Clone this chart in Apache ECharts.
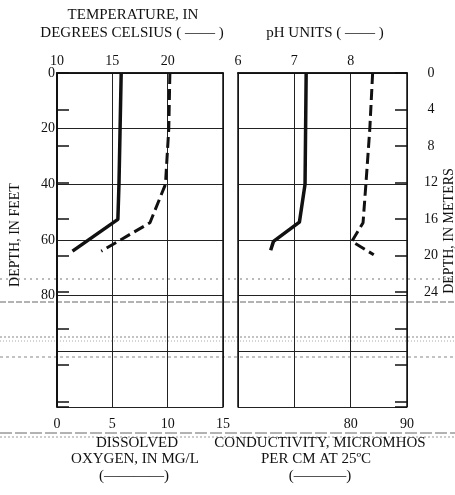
<!DOCTYPE html>
<html>
<head>
<meta charset="utf-8">
<script src="https://cdn.jsdelivr.net/npm/echarts@6/dist/echarts.min.js"></script>
<style>
html,body{margin:0;padding:0;background:#fff;}
#chart{width:455px;height:495px;}
</style>
</head>
<body>
<div id="chart"></div>
<script>
// ---- data (depth in feet) ----
var tempDepth = [0, 20, 40, 52.6, 64];
var temperature = [15.8, 15.7, 15.6, 15.5, 11.4];

var doDepth = [0, 20, 40, 53.8, 64];
var dissolvedOxygen = [10.2, 10.1, 9.8, 8.4, 4.0];

var phDepth = [0, 20, 40, 53.6, 60.5, 63.7];
var ph = [7.21, 7.2, 7.19, 7.09, 6.63, 6.58];

var condDepth = [0, 20, 40, 53.8, 60.5, 65.3];
var conductivity = [83.9, 83.4, 82.7, 82.2, 80.2, 84.1];

var feetTicks = [0, 20, 40, 60, 80];
var meterTicks = [0, 4, 8, 12, 16, 20, 24];
var tempTicks = [10, 15, 20];
var phTicks = [6, 7, 8];
var doTicks = [0, 5, 10, 15];
var condTicks = [80, 90];

function zip(xs, ys) { return xs.map(function (x, i) { return [x, ys[i]]; }); }
function only(list) { return function (v) { return list.indexOf(Math.round(v * 1000) / 1000) >= 0 ? String(v) : ''; }; }

var FONT = 'Liberation Serif';
var INK = '#111';
var FT_PER_M = 3.2808;
var MAXFT = 120;
var MAXM = MAXFT / FT_PER_M;
var TF = '15px "Liberation Serif"';
var RF = '14px "Liberation Serif"';

var chart = echarts.init(document.getElementById('chart'), null, {renderer: 'canvas'});

var gridLine = {show: true, lineStyle: {color: '#222', width: 1}};
var axLine = {show: true, lineStyle: {color: INK, width: 1.5}};
var lbl = {fontFamily: FONT, fontSize: 14, color: INK};

function txt(s, x, y, font) {
  return {type: 'text', style: {text: s, x: x, y: y, align: 'center', verticalAlign: 'middle', font: font || TF, fill: INK}};
}
function rule(y, color, dash) {
  return {type: 'line', shape: {x1: 0, y1: y, x2: 455, y2: y}, style: {stroke: color, lineWidth: 1, lineDash: dash}, z: -1};
}

var option = {
  backgroundColor: '#fff',
  animation: false,
  grid: [
    {left: 57, right: 232, top: 73, bottom: 88, show: false},
    {left: 238, right: 48, top: 73, bottom: 88, show: false}
  ],
  xAxis: [
    {gridIndex: 0, type: 'value', position: 'top', min: 10, max: 25, interval: 5,
     axisLine: axLine, axisTick: {show: false}, splitLine: {show: false},
     axisLabel: Object.assign({margin: 5, formatter: only(tempTicks)}, lbl)},
    {gridIndex: 0, type: 'value', position: 'bottom', min: 0, max: 15, interval: 5,
     axisLine: axLine, axisTick: {show: false}, splitLine: gridLine,
     axisLabel: Object.assign({margin: 10, formatter: only(doTicks)}, lbl)},
    {gridIndex: 1, type: 'value', position: 'top', min: 6, max: 9, interval: 1,
     axisLine: axLine, axisTick: {show: false}, splitLine: {show: false},
     axisLabel: Object.assign({margin: 5, formatter: only(phTicks)}, lbl)},
    {gridIndex: 1, type: 'value', position: 'bottom', min: 60, max: 90, interval: 10,
     axisLine: axLine, axisTick: {show: false}, splitLine: gridLine,
     axisLabel: Object.assign({margin: 10, formatter: only(condTicks)}, lbl)}
  ],
  yAxis: [
    {gridIndex: 0, type: 'value', position: 'left', inverse: true, min: 0, max: MAXFT, interval: 20,
     axisLine: {show: true, lineStyle: {color: INK, width: 2}}, axisTick: {show: false}, splitLine: gridLine,
     axisLabel: Object.assign({margin: 2, formatter: only(feetTicks)}, lbl)},
    {gridIndex: 0, type: 'value', position: 'right', inverse: true, min: 0, max: MAXFT,
     axisLine: axLine, axisTick: {show: false}, splitLine: {show: false}, axisLabel: {show: false}},
    {gridIndex: 1, type: 'value', position: 'left', inverse: true, min: 0, max: MAXFT, interval: 20,
     axisLine: axLine, axisTick: {show: false}, splitLine: gridLine, axisLabel: {show: false}},
    {gridIndex: 1, type: 'value', position: 'right', inverse: true, min: 0, max: MAXM, interval: 4,
     axisLine: axLine, axisTick: {show: true, inside: true, length: 12, lineStyle: {color: INK, width: 1.5}},
     splitLine: {show: false},
     axisLabel: Object.assign({margin: 24, align: 'center', formatter: only(meterTicks)}, lbl)},
    {gridIndex: 0, type: 'value', position: 'left', inverse: true, min: 0, max: MAXM, interval: 4,
     axisLine: {show: false}, axisTick: {show: true, inside: true, length: 12, lineStyle: {color: INK, width: 1.5}},
     splitLine: {show: false}, axisLabel: {show: false}}
  ],
  series: [
    {name: 'Temperature', type: 'line', xAxisIndex: 0, yAxisIndex: 0, data: zip(temperature, tempDepth),
     symbol: 'none', lineStyle: {color: INK, width: 3.5, type: 'solid'}},
    {name: 'Dissolved oxygen', type: 'line', xAxisIndex: 1, yAxisIndex: 0, data: zip(dissolvedOxygen, doDepth),
     symbol: 'none', lineStyle: {color: INK, width: 3, type: [11, 5]}},
    {name: 'pH', type: 'line', xAxisIndex: 2, yAxisIndex: 2, data: zip(ph, phDepth),
     symbol: 'none', lineStyle: {color: INK, width: 3.5, type: 'solid'}},
    {name: 'Conductivity', type: 'line', xAxisIndex: 3, yAxisIndex: 2, data: zip(conductivity, condDepth),
     symbol: 'none', lineStyle: {color: INK, width: 3, type: [11, 5]}}
  ],
  graphic: [
    txt('TEMPERATURE, IN', 133, 15),
    txt('DEGREES CELSIUS ( \u2014\u2014 )', 132, 33),
    txt('pH UNITS ( \u2014\u2014 )', 325, 33),
    txt('DISSOLVED', 137, 443),
    txt('OXYGEN, IN MG/L', 135, 459),
    txt('(\u2014\u2014\u2014\u2014)', 134, 476),
    txt('CONDUCTIVITY, MICROMHOS', 320, 443),
    txt('PER CM AT 25\u00BAC', 316, 459),
    txt('(\u2013\u2013\u2013\u2014\u2014)', 320, 476),
    {type: 'text', rotation: Math.PI / 2, x: 15, y: 235, style: {text: 'DEPTH, IN FEET', align: 'center', verticalAlign: 'middle', font: RF, fill: INK}},
    {type: 'text', rotation: Math.PI / 2, x: 449, y: 231, style: {text: 'DEPTH, IN METERS', align: 'center', verticalAlign: 'middle', font: RF, fill: INK}},
    // faint horizontal rules from the scanned page
    rule(279, '#777', [2, 4]),
    rule(302, '#666', [6, 2]),
    rule(337, '#888', [2, 2]),
    rule(341, '#aaa', [1, 2]),
    rule(357, '#888', [3, 3]),
    rule(433, '#666', [12, 3]),
    rule(437, '#999', [2, 2])
  ]
};
chart.setOption(option);
</script>
</body>
</html>
